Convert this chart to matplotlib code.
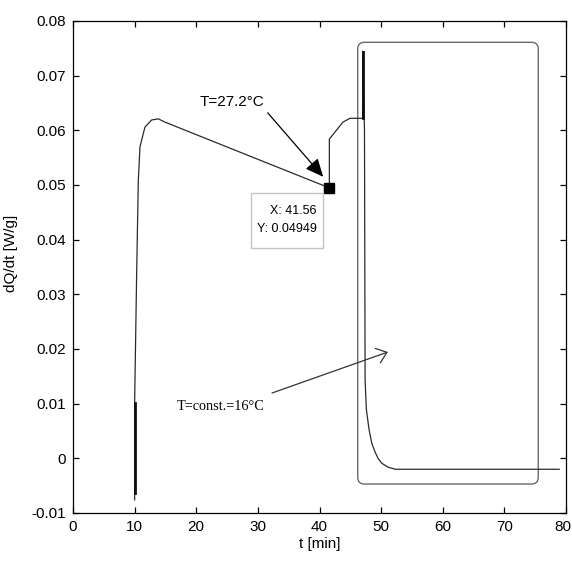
import numpy as np
import matplotlib
matplotlib.use("Agg")
import matplotlib.pyplot as plt
from matplotlib.patches import FancyBboxPatch, Rectangle
from matplotlib.transforms import ScaledTranslation

# heat-flow trace dQ/dt vs time
t_min = [10.0, 10.0, 10.33, 10.6, 10.87, 11.68, 12.77, 13.85, 14.93, 28.0, 41.56,
         41.6, 41.6, 43.8, 44.95, 46.9, 47.0, 47.0, 47.3, 47.4, 47.6, 48.05, 48.5, 49.0,
         49.5, 50.1, 51.1, 52.3, 78.9]
dq_dt = [-0.0076, 0.0101, 0.0339, 0.0509, 0.0570, 0.0606, 0.0619, 0.0621, 0.0615, 0.0556, 0.04949,
         0.04949, 0.0584, 0.0615, 0.0622, 0.0622, 0.0622, 0.0745, 0.0600, 0.0143, 0.0090, 0.0052,
         0.0027, 0.0012, 0.0000, -0.0009, -0.0016, -0.0020, -0.0020]
# overlapping up/down strokes drawn heavier
spike1_t = [10.0, 10.0]
spike1_q = [-0.0063, 0.0101]
spike2_t = [47.0, 47.0]
spike2_q = [0.0622, 0.0743]

# saturated loop of the second channel
loop_t = [46.2, 75.5]
loop_q = [-0.0047, 0.0761]

tip_x, tip_y = 41.56, 0.04949

fig = plt.figure(figsize=(5.72, 5.63), dpi=100)
ax = fig.add_axes([73 / 572, 1 - 513 / 563, 493 / 572, 492 / 563])

sans = "Liberation Sans"

ax.add_patch(FancyBboxPatch((loop_t[0], loop_q[0]), loop_t[1] - loop_t[0], loop_q[1] - loop_q[0],
                            boxstyle="round,pad=0,rounding_size=1.1", mutation_aspect=0.00112,
                            fc="none", ec="#6a6a6a", lw=1.0, zorder=2))
ax.plot(t_min, dq_dt, color="#2a2a2a", lw=0.9, zorder=3)
ax.plot(spike1_t, spike1_q, color="#111111", lw=2.0, zorder=3)
ax.plot(spike2_t, spike2_q, color="#111111", lw=2.0, zorder=3)
ax.plot([tip_x], [tip_y], marker="s", ms=7, color="black", zorder=4)

# data cursor box
ax.add_patch(Rectangle((28.9, 0.0385), 11.6, 0.0101, fc="white", ec="#c4c4c4", lw=1.0, zorder=5))
ax.text(39.5, 0.0436, f"X: {tip_x}\nY: {tip_y}", ha="right", va="center", multialignment="right",
        fontsize=9, family=sans, linespacing=1.6, zorder=6)

ax.text(20.6, 0.0652, "T=27.2°C", ha="left", va="center", fontsize=11, family=sans)
ax.annotate("", xy=(40.6, 0.0515), xytext=(31.6, 0.0632),
            arrowprops=dict(arrowstyle="-|>,head_length=1.0,head_width=0.45", mutation_scale=11,
                            color="black", lw=0.9, shrinkA=0, shrinkB=0))

ax.text(16.9, 0.00957, "T=const.=16°C", ha="left", va="center", fontsize=10.3, family="Liberation Serif")
ax.annotate("", xy=(51.1, 0.01945), xytext=(32.3, 0.01195),
            arrowprops=dict(arrowstyle="->,head_length=0.7,head_width=0.55", mutation_scale=10,
                            color="#333333", lw=0.9, shrinkA=0, shrinkB=0))

ax.set_xlim(0, 80)
ax.set_ylim(-0.01, 0.08)
ax.set_xticks(np.arange(0, 81, 10))
ax.set_yticks(np.round(np.arange(-0.01, 0.0801, 0.01), 2))
ax.yaxis.set_major_formatter(plt.FuncFormatter(lambda v, p: "%g" % round(v, 2)))
ax.tick_params(direction="in", length=4, width=0.9, top=True, right=True, labelsize=11, pad=5)
for lab in ax.get_xticklabels() + ax.get_yticklabels():
    lab.set_family(sans)
# keep the last x label inside the canvas
last = ax.get_xticklabels()[-1]
last.set_transform(last.get_transform() + ScaledTranslation(-3 / 100, 0, fig.dpi_scale_trans))
for sp in ax.spines.values():
    sp.set_linewidth(0.9)

ax.set_xlabel("t [min]", fontsize=11, family=sans, labelpad=2)
ax.set_ylabel("dQ/dt [W/g]", fontsize=11, family=sans)
ax.yaxis.set_label_coords(-0.112, 0.528)

fig.savefig("out.png", dpi=100)
